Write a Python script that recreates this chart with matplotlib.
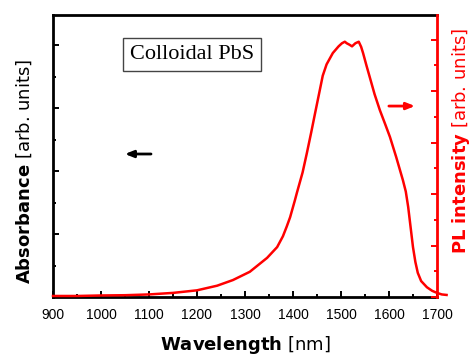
import matplotlib
matplotlib.use('Agg')
import matplotlib.pyplot as plt
from matplotlib.ticker import MultipleLocator

plt.rcParams['font.family'] = ['Liberation Sans', 'DejaVu Sans']
plt.rcParams['mathtext.fontset'] = 'dejavusans'

# Espectro de PL de los puntos cuánticos coloidales de PbS (unidades arbitrarias)
longitud_onda = [900, 950, 1000, 1050, 1100, 1150, 1200, 1242, 1275, 1310, 1346,
                 1367, 1379, 1387, 1394, 1404, 1408, 1420, 1429, 1438, 1446,
                 1455, 1462, 1470, 1483, 1495, 1502, 1508, 1512, 1518, 1523,
                 1530, 1537, 1542, 1546, 1553, 1560, 1570, 1581, 1592, 1602,
                 1615, 1629, 1635, 1640, 1645, 1650, 1655, 1660, 1667, 1679,
                 1690, 1700, 1710, 1720]
intensidad_pl = [0.02, 0.02, 0.03, 0.035, 0.05, 0.08, 0.13, 0.22, 0.33, 0.49, 0.76,
                 0.97, 1.18, 1.37, 1.55, 1.88, 2.02, 2.42, 2.80, 3.20, 3.57,
                 3.98, 4.30, 4.52, 4.74, 4.87, 4.93, 4.96, 4.93, 4.90, 4.87,
                 4.93, 4.96, 4.86, 4.74, 4.50, 4.27, 3.94, 3.63, 3.36, 3.11,
                 2.72, 2.27, 2.05, 1.75, 1.36, 0.97, 0.68, 0.47, 0.31, 0.19,
                 0.12, 0.08, 0.05, 0.04]

fig = plt.figure(figsize=(4.72, 3.56), dpi=100)
ax = fig.add_axes([0.1123, 0.1657, 0.8135, 0.7923])
ax2 = ax.twinx()

# Eje izquierdo (absorbancia) sin curva, solo marcas
ax.set_xlim(900, 1700)
ax.set_ylim(0, 4.48)
ax.xaxis.set_major_locator(MultipleLocator(100))
ax.xaxis.set_minor_locator(MultipleLocator(50))
ax.yaxis.set_major_locator(MultipleLocator(1))
ax.yaxis.set_minor_locator(MultipleLocator(0.5))
ax.tick_params(which='both', direction='in', width=1.4, top=False, right=False)
ax.tick_params(which='major', length=4.5)
ax.tick_params(which='minor', length=2.5)
ax.tick_params(axis='x', labelsize=10, pad=8)
ax.tick_params(axis='y', labelleft=False)
for lado in ['left', 'bottom', 'top']:
    ax.spines[lado].set_linewidth(2)
ax.spines['right'].set_visible(False)

# Eje derecho (PL) en rojo
ax2.plot(longitud_onda, intensidad_pl, color='red', linewidth=1.8, clip_on=False)
ax2.set_ylim(0, 5.48)
ax2.yaxis.set_major_locator(MultipleLocator(1))
ax2.yaxis.set_minor_locator(MultipleLocator(0.5))
ax2.tick_params(which='both', direction='in', width=1.4, color='red', labelright=False)
ax2.tick_params(which='major', length=4.5)
ax2.tick_params(which='minor', length=2.5)
ax2.spines['right'].set_color('red')
ax2.spines['right'].set_linewidth(2)
for lado in ['left', 'bottom', 'top']:
    ax2.spines[lado].set_visible(False)

# Etiquetas de los ejes
fuente_eje = dict(fontsize=13, family='DejaVu Sans')
fig.text(0.5191, 0.017, r'$\mathbf{Wavelength}$ [nm]', ha='center', va='baseline', **fuente_eje)
fig.text(0.051, 0.518, r'$\mathbf{Absorbance}$ [arb. units]', ha='center', va='center',
         rotation=90, **fuente_eje)
fig.text(0.976, 0.604, r'$\mathbf{PL\ intensity}$ [arb. units]', ha='center', va='center',
         rotation=90, color='red', **fuente_eje)

# Recuadro con el nombre de la muestra
ax.text(0.362, 0.86, 'Colloidal PbS', transform=ax.transAxes, ha='center', va='center',
        fontsize=16, family='Liberation Serif',
        bbox=dict(boxstyle='square,pad=0.32', facecolor='white', edgecolor='#444444', linewidth=1))

# Flechas que indican a qué eje corresponde cada curva
ax.annotate('', xy=(1044, 0.507), xytext=(1110, 0.507), xycoords=('data', 'axes fraction'),
            textcoords=('data', 'axes fraction'),
            arrowprops=dict(arrowstyle='-|>,head_length=0.5,head_width=0.2', color='black', lw=2))
ax.annotate('', xy=(1660, 0.677), xytext=(1594, 0.677), xycoords=('data', 'axes fraction'),
            textcoords=('data', 'axes fraction'),
            arrowprops=dict(arrowstyle='-|>,head_length=0.5,head_width=0.2', color='red', lw=2))

fig.savefig('out.png', dpi=100)
